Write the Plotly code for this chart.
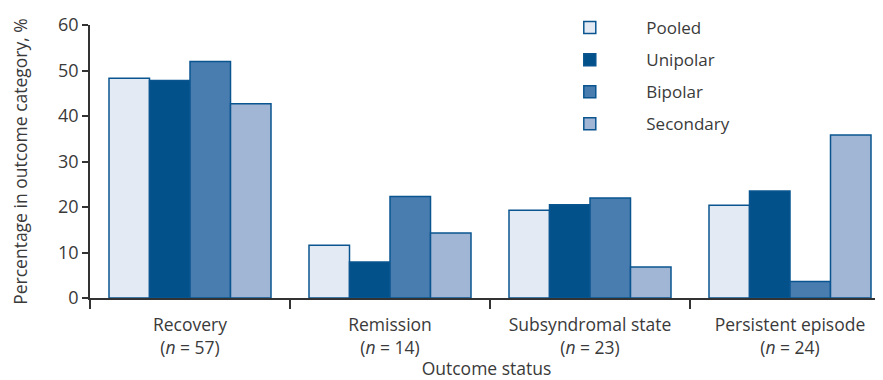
import plotly.graph_objects as go

categories = ["Recovery", "Remission", "Subsyndromal state", "Persistent episode"]
n_values = [57, 14, 23, 24]
series_names = ["Pooled", "Unipolar", "Bipolar", "Secondary"]
pooled = [48.3, 11.6, 19.3, 20.4]
unipolar = [47.8, 7.9, 20.5, 23.5]
bipolar = [52.0, 22.3, 22.0, 3.6]
secondary = [42.7, 14.3, 6.8, 35.8]
y_ticks = [0, 10, 20, 30, 40, 50, 60]

series = [pooled, unipolar, bipolar, secondary]
colors = ["#e4eaf3", "#03518a", "#497daf", "#a1b5d4"]
edge = "#0a5590"
font_family = "Open Sans, Liberation Sans, sans-serif"
text_color = "#3a3a3a"

x_pos = list(range(len(categories)))
tick_text = [f"{c}<br>(<i>n</i> = {n})" for c, n in zip(categories, n_values)]

fig = go.Figure()
for name, vals, col in zip(series_names, series, colors):
    fig.add_trace(go.Bar(
        x=x_pos, y=vals, name=name, legendgroup=name,
        marker=dict(color=col, line=dict(color=edge, width=1.5)),
    ))

fig.update_layout(
    width=875, height=372,
    margin=dict(l=82, r=0, t=17, b=82),
    plot_bgcolor="white", paper_bgcolor="white",
    barmode="group", bargap=0.19, bargroupgap=0,
    font=dict(family=font_family, size=17, color=text_color),
    showlegend=True,
    legend=dict(
        x=0.559, y=1.055, xanchor="left", yanchor="top",
        font=dict(size=17, color=text_color),
        tracegroupgap=7, itemwidth=103, bgcolor="rgba(0,0,0,0)",
    ),
    xaxis=dict(
        range=[-0.5, 3.465], tickmode="array", tickvals=x_pos, ticktext=tick_text,
        ticks="", showline=True, linecolor="#333", linewidth=1.5,
        showgrid=False, zeroline=False, ticklabelstandoff=10,
        tickfont=dict(size=17.5, color=text_color),
        minor=dict(tickmode="array", tickvals=[-0.5, 0.5, 1.5, 2.5],
                   ticks="outside", ticklen=9, tickwidth=1.5, tickcolor="#333"),
        title=dict(text="Outcome status", font=dict(size=17.5, color=text_color), standoff=3),
    ),
    yaxis=dict(
        range=[0, 60], tickmode="array", tickvals=y_ticks,
        ticks="outside", ticklen=6, tickwidth=1.5, tickcolor="#333",
        showline=True, linecolor="#333", linewidth=1.5,
        showgrid=False, zeroline=False,
        tickfont=dict(size=18, color=text_color),
        title=dict(text="Percentage in outcome category, %", font=dict(size=17.5, color=text_color), standoff=30),
    ),
)

fig.write_html("out.html")
